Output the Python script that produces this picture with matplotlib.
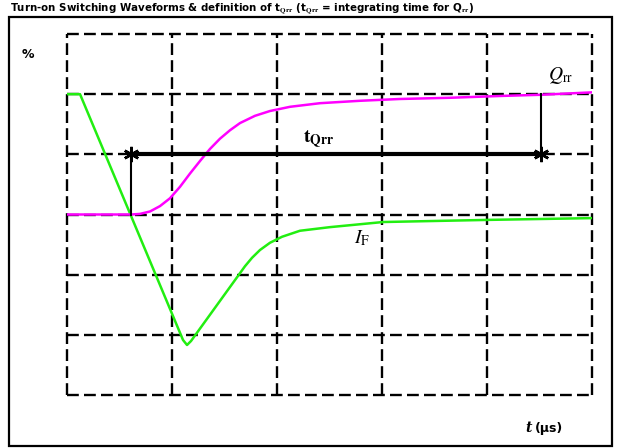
import matplotlib
matplotlib.use("Agg")
import matplotlib.pyplot as plt
from matplotlib.patches import Rectangle

plt.rcParams["mathtext.fontset"] = "stix"

# time axis in grid divisions (5 columns), signal in divisions (6 rows)
if_t = [0, 0.124, 1.105, 1.143, 1.181, 1.6, 1.695, 1.762, 1.838, 1.933, 2.048, 2.219, 2.505, 3.01, 4.0, 5.0]
if_v = [5.0, 5.0, 0.914, 0.831, 0.897, 1.91, 2.14, 2.28, 2.41, 2.53, 2.63, 2.73, 2.79, 2.875, 2.91, 2.94]

qrr_t = [0, 0.610, 0.695, 0.790, 0.886, 0.981, 1.076, 1.171, 1.267, 1.362, 1.457, 1.552,
         1.648, 1.790, 1.933, 2.124, 2.410, 2.790, 3.171, 3.648, 4.124, 4.514, 5.0]
qrr_v = [3.0, 3.0, 3.01, 3.05, 3.14, 3.27, 3.46, 3.68, 3.89, 4.09, 4.26, 4.40,
         4.52, 4.64, 4.72, 4.79, 4.85, 4.89, 4.92, 4.94, 4.97, 4.99, 5.03]

t_start = 0.61
t_end = 4.514
marker_level = 4.0
q_level = 5.0
zero_level = 3.0

fig = plt.figure(figsize=(6.24, 4.48), dpi=100)
fig.patches.append(Rectangle((9 / 624, 2 / 448), 603 / 624, 429 / 448, transform=fig.transFigure,
                             fill=False, edgecolor="black", linewidth=1.6))

ax = fig.add_axes([67 / 624, 53 / 448, 525 / 624, 361 / 448])
ax.set_xlim(0, 5)
ax.set_ylim(0, 6)
ax.axis("off")

dash = (0, (5, 2.2))
for x in range(6):
    ax.axvline(x, color="black", lw=1.7, linestyle=dash, zorder=1, clip_on=False)
for y in range(7):
    ax.axhline(y, color="black", lw=1.7, linestyle=dash, zorder=1, clip_on=False)

ax.plot(if_t, if_v, color="#22ee11", lw=1.8, zorder=3, solid_joinstyle="round")
ax.plot(qrr_t, qrr_v, color="#ff00ff", lw=1.8, zorder=3, solid_joinstyle="round")

# t_Qrr markers
ax.plot([t_start, t_start], [zero_level, marker_level], color="black", lw=1.5, zorder=4)
ax.plot([t_end, t_end], [marker_level, q_level], color="black", lw=1.5, zorder=4)
ax.plot([t_start, t_end], [marker_level, marker_level], color="black", lw=3, zorder=4)
ax.plot([t_start, t_end], [marker_level, marker_level], linestyle="none",
        marker=(6, 2, 0), markersize=11, mew=1.8, color="black", zorder=5)

ax.text(2.4, 4.08, r"$\mathbf{t}_{\mathbf{Qrr}}$", fontsize=14, ha="center", va="bottom")
ax.text(4.58, 5.13, r"$Q_{\mathrm{rr}}$", fontsize=14, ha="left", va="bottom")
ax.text(2.73, 2.6, r"$I_{\mathrm{F}}$", fontsize=14, ha="left", va="center")

fig.text(22 / 624, 1 - 55 / 448, "%", fontsize=9, fontweight="bold", ha="left", va="center")
fig.text(525 / 624, 1 - 428 / 448, "t", fontsize=10, fontweight="bold", fontstyle="italic",
         family="DejaVu Serif", ha="left", va="center")
fig.text(535 / 624, 1 - 428 / 448, "(µs)", fontsize=9, fontweight="bold", ha="left", va="center")
fig.text(10 / 624, 1 - 9 / 448,
         r"Turn-on Switching Waveforms & definition of t$_{\mathbf{Qrr}}$ (t$_{\mathbf{Qrr}}$ = integrating time for Q$_{\mathbf{rr}}$)",
         fontsize=7.4, fontweight="bold", ha="left", va="center")

fig.savefig("out.png", dpi=100)
